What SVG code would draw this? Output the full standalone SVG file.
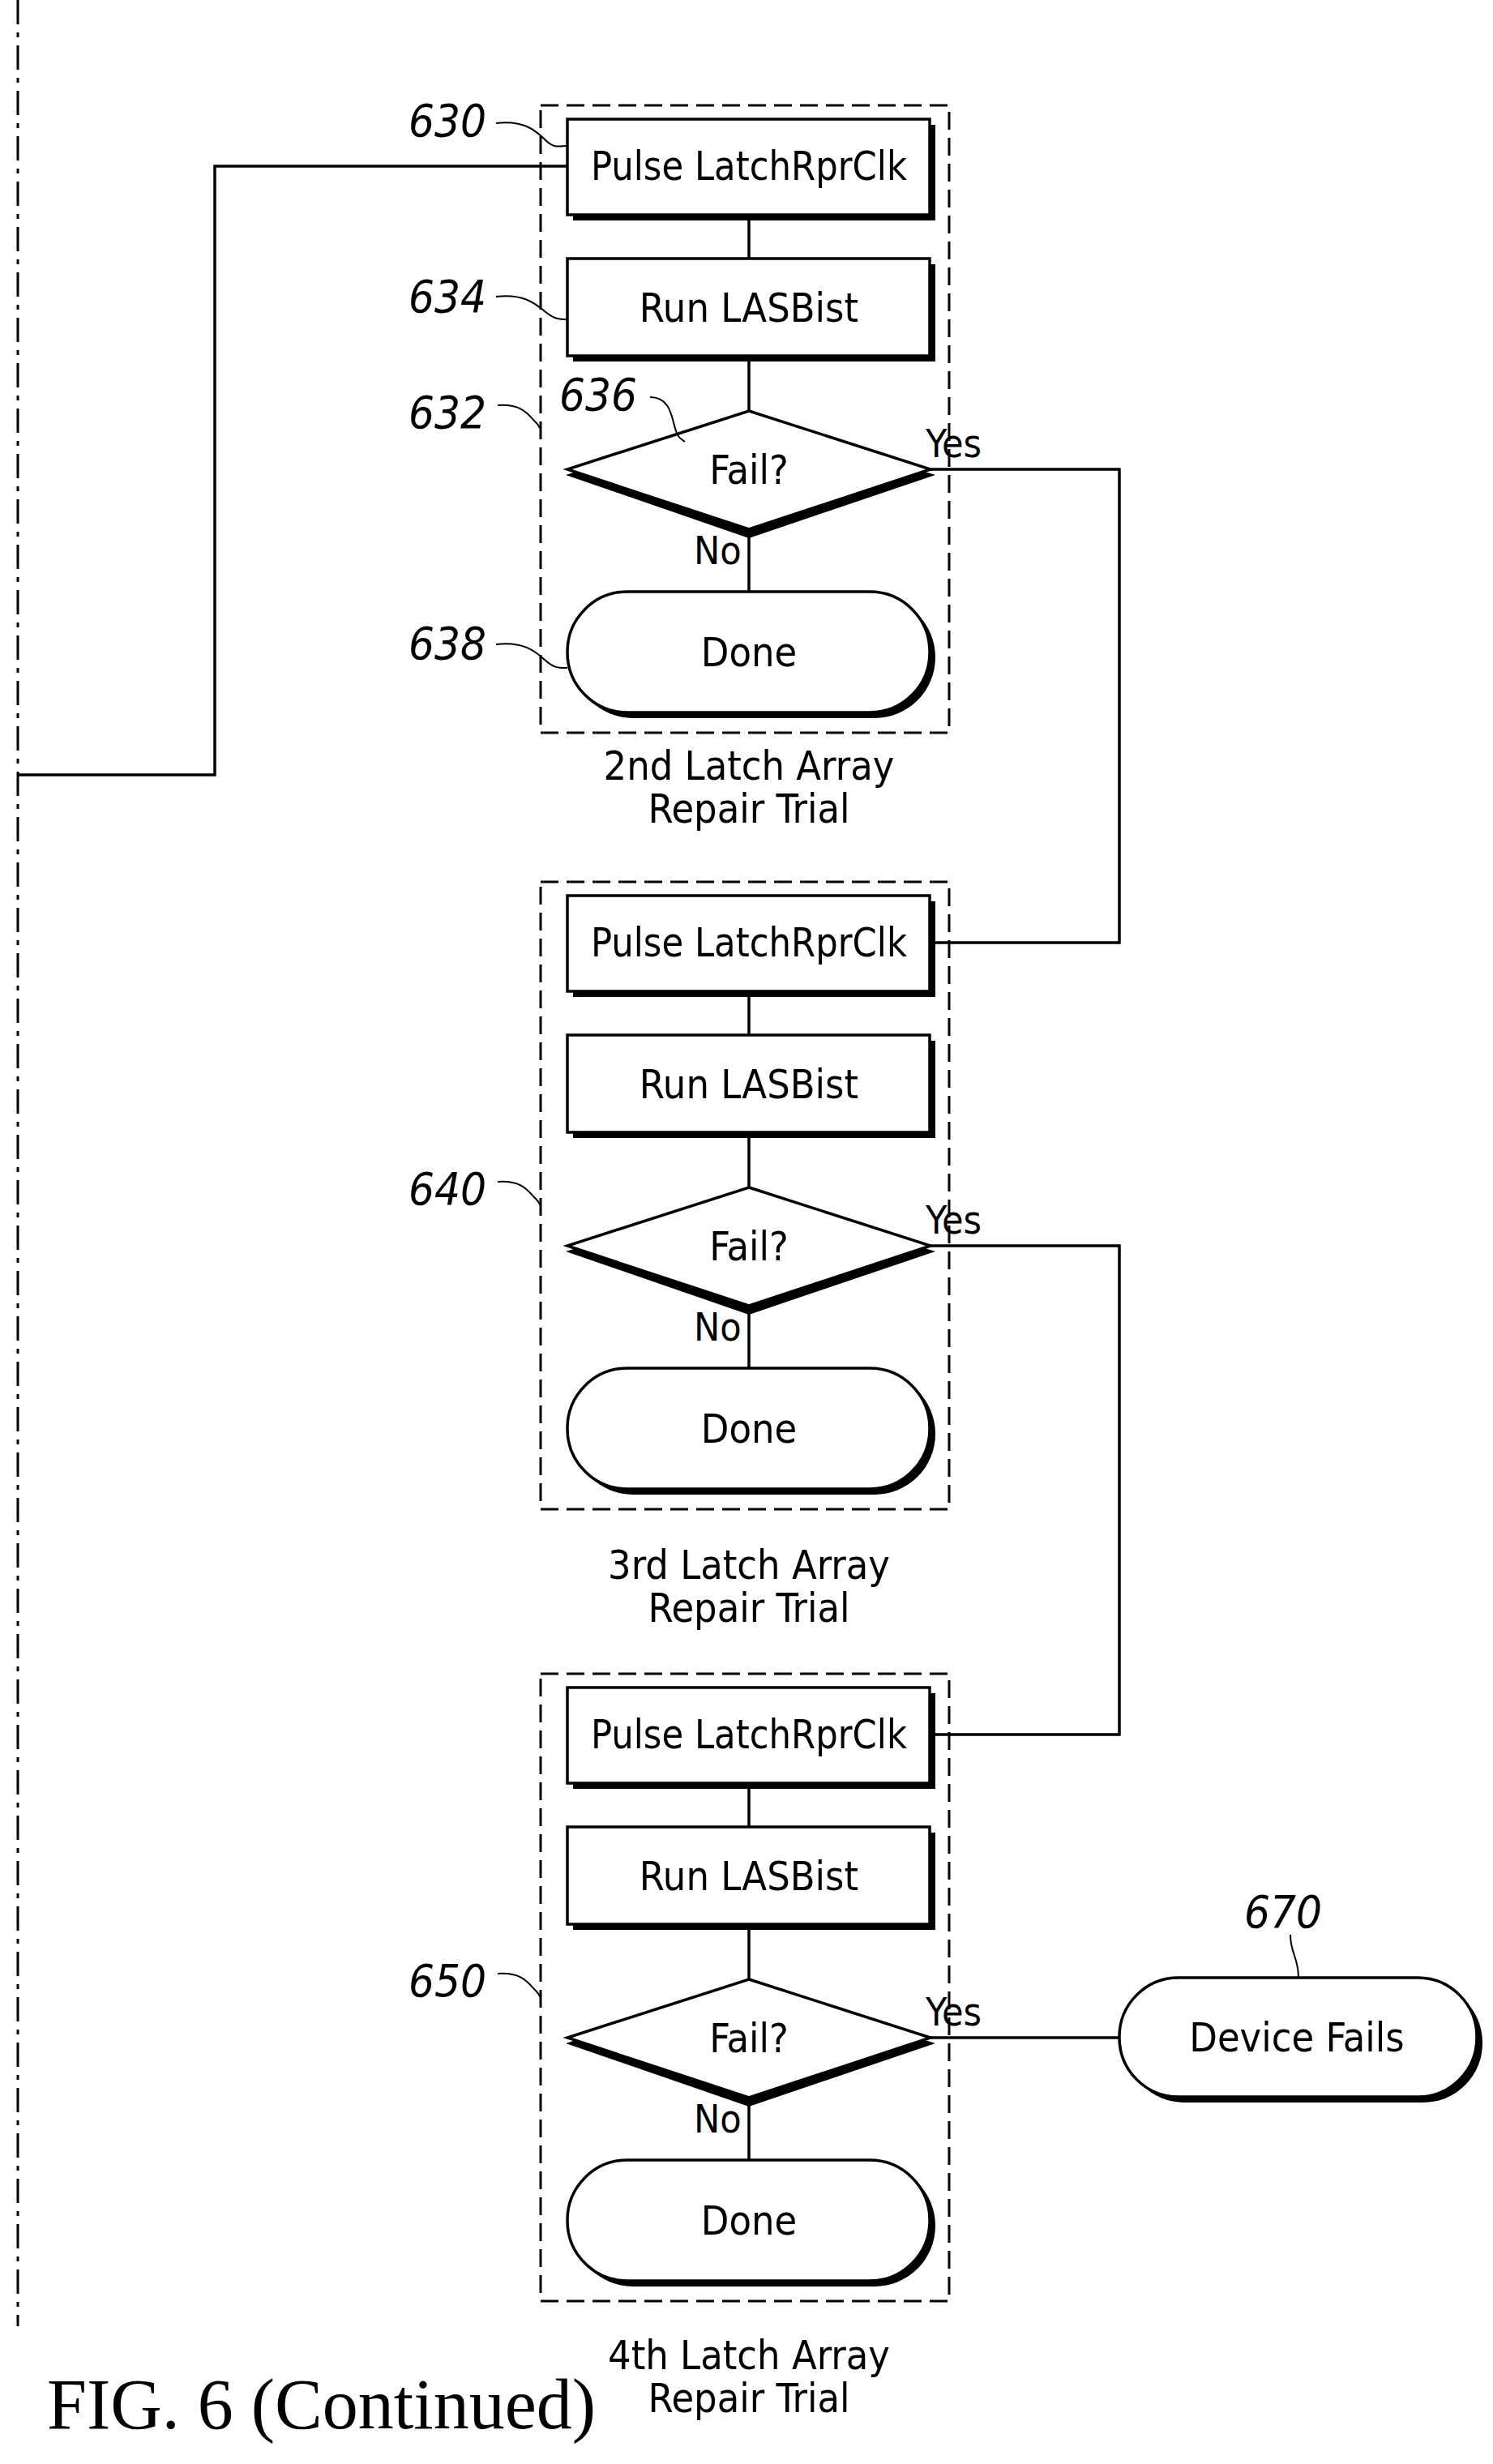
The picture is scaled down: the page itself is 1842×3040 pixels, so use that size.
<svg xmlns="http://www.w3.org/2000/svg" width="1842" height="3040" viewBox="0 0 1842 3040">
<style>
.t{font-family:"DejaVu Sans Condensed","DejaVu Sans",sans-serif;font-stretch:condensed;font-size:50px;text-anchor:middle;fill:#000}
.r{font-family:"DejaVu Sans Condensed","DejaVu Sans",sans-serif;font-stretch:condensed;font-style:italic;font-size:56px;fill:#000}
.l{font-family:"DejaVu Sans Condensed","DejaVu Sans",sans-serif;font-stretch:condensed;font-size:48px;fill:#000}
.s{fill:#fff;stroke:#000;stroke-width:3.5}
.sh{fill:#000}
.c{fill:none;stroke:#000;stroke-width:3.5}
.lead{fill:none;stroke:#000;stroke-width:2}
.dash{fill:none;stroke:#000;stroke-width:3;stroke-dasharray:22,10}
</style>
<defs>
<g id="sec">
<rect class="dash" x="667" y="130" width="504" height="774"/>
<rect class="sh" x="707" y="154" width="447" height="118"/>
<rect class="s" x="700" y="147" width="447" height="118"/>
<rect class="sh" x="707" y="326" width="447" height="120"/>
<rect class="s" x="700" y="319" width="447" height="120"/>
<polygon class="sh" points="924,515 1154,586 924,664 698,586"/>
<polygon class="s" points="924,507 1148,579 924,653 700,579"/>
<rect class="sh" x="706" y="736" width="448" height="150" rx="75"/>
<rect class="s" x="700" y="730" width="447" height="149" rx="74"/>
<line class="c" x1="924" y1="265" x2="924" y2="319"/>
<line class="c" x1="924" y1="439" x2="924" y2="507"/>
<line class="c" x1="924" y1="653" x2="924" y2="730"/>
<text class="t" x="924" y="222" textLength="390" lengthAdjust="spacingAndGlyphs">Pulse LatchRprClk</text>
<text class="t" x="924" y="397">Run LASBist</text>
<text class="t" x="924" y="597">Fail?</text>
<text class="t" x="924" y="822">Done</text>
<text class="l" x="1142" y="564">Yes</text>
<text class="l" x="856" y="696">No</text>
<path class="lead" d="M614,500 C645,498 652,512 660,520 S664,528 667,528"/>
</g>
</defs>
<path d="M22,0 V2870" fill="none" stroke="#000" stroke-width="3" stroke-dasharray="30,10,6,10"/>
<g id="trial2"><use href="#sec"/>
<text class="r" x="504" y="168">630</text>
<path class="lead" d="M612,152 C645,148 660,160 672,172 S690,180 700,180"/>
<text class="r" x="504" y="385">634</text>
<path class="lead" d="M612,366 C645,362 660,374 672,384 S690,394 700,394"/>
<text class="r" x="504" y="528">632</text>
<text class="r" x="690" y="506">636</text>
<path class="lead" d="M802,490 C825,490 828,510 832,525 S838,540 845,545"/>
<text class="r" x="504" y="813">638</text>
<path class="lead" d="M612,795 C645,791 660,803 672,814 S690,824 700,824"/>
<text class="t" x="924" y="962">2nd Latch Array</text>
<text class="t" x="924" y="1015">Repair Trial</text>
</g>
<g id="trial3" transform="translate(0,958)"><use href="#sec"/>
<text class="r" x="504" y="528">640</text>
<text class="t" x="924" y="990">3rd Latch Array</text>
<text class="t" x="924" y="1043">Repair Trial</text>
</g>
<g id="trial4" transform="translate(0,1935)"><use href="#sec"/>
<text class="r" x="504" y="528">650</text>
<text class="t" x="924" y="988">4th Latch Array</text>
<text class="t" x="924" y="1041">Repair Trial</text>
</g>
<g id="fails">
<rect class="sh" x="1388" y="2447" width="441" height="147" rx="73"/>
<rect class="s" x="1381" y="2440" width="441" height="147" rx="73"/>
<text class="t" x="1600" y="2531">Device Fails</text>
<text class="r" x="1535" y="2378">670</text>
<path class="lead" d="M1592,2387 C1592,2410 1602,2415 1602,2440"/>
</g>
<g id="connectors">
<path class="c" d="M22,956 H265 V205 H700"/>
<path class="c" d="M1148,579 H1381 V1163 H1147"/>
<path class="c" d="M1148,1537 H1381 V2140 H1147"/>
<path class="c" d="M1148,2514 H1381"/>
</g>
<text x="58" y="2996" font-family="Liberation Serif,serif" font-size="88">FIG. 6 (Continued)</text>
</svg>
